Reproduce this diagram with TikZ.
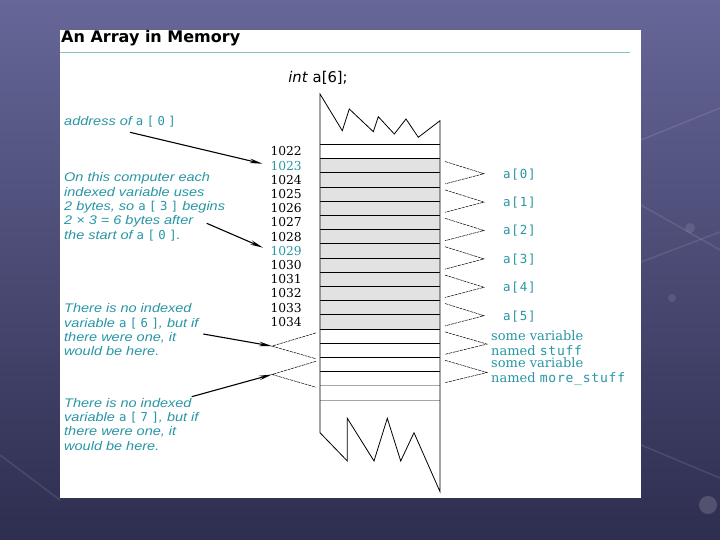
\documentclass[tikz,border=0pt]{standalone}
\usepackage{fontspec}
\usepackage{tikz}
\usetikzlibrary{arrows.meta,calc}
\newfontfamily\notefont[FakeStretch=1.16]{Liberation Sans}
\newfontfamily\headfont{DejaVu Sans}
\newfontfamily\addrfont{DejaVu Serif}
\newfontfamily\codefont[LetterSpace=6]{DejaVu Sans Mono}
\newfontfamily\notecode[LetterSpace=28]{DejaVu Sans Mono}
\definecolor{slidetop}{RGB}{102,102,152}
\definecolor{slidebottom}{RGB}{46,46,80}
\definecolor{tealtext}{RGB}{40,150,165}
\definecolor{titlerule}{RGB}{130,195,195}
\definecolor{cellgray}{RGB}{226,226,226}
\newcommand{\cd}[1]{{\codefont\upshape #1}}
\newcommand{\ncd}[1]{{\notecode\upshape\fontsize{12.3}{14.4}\selectfont #1}}
\tikzset{
    note/.style={
        anchor=north west,
        inner sep=0pt,
        align=left,
        text=tealtext,
        font=\notefont\itshape\fontsize{12.5}{14.4}\selectfont
    },
    address/.style={
        anchor=east,
        inner sep=0pt,
        font=\addrfont\fontsize{12.3}{13}\selectfont
    },
    element/.style={
        anchor=west,
        inner sep=0pt,
        text=tealtext,
        font=\codefont\fontsize{12.5}{14}\selectfont
    },
    varlabel/.style={
        anchor=west,
        inner sep=0pt,
        align=left,
        text=tealtext,
        font=\addrfont\fontsize{13}{14.4}\selectfont
    },
    cell/.style={
        rectangle,
        minimum width=120pt,
        minimum height=14.2pt,
        inner sep=0pt,
        outer sep=0pt
    },
    zig/.style={
        draw=black,
        line width=0.5pt,
        dash pattern=on 3pt off 0.8pt
    },
    pointer/.style={
        -{Stealth[length=13pt,width=4.5pt]},
        line width=1.1pt,
        draw=black
    },
    glow/.style={
        draw=white,
        draw opacity=0.1,
        line width=1.5pt
    }
}

\begin{document}
\begin{tikzpicture}[x=1pt, y=-1pt]
    \useasboundingbox (0,0) rectangle (720,540);
    % Slide and panel
    \fill[top color=slidetop, bottom color=slidebottom] (0,0) rectangle (720,540);
    \draw[glow] (641,140) -- (720,108);
    \draw[glow] (641,205) -- (720,250);
    \draw[glow] (641,262) -- (720,232);
    \draw[glow] (641,445) -- (720,478);
    \draw[glow] (0,455) -- (60,500);
    \fill[white, opacity=0.16] (708,505) circle (9);
    \fill[white, opacity=0.1] (690,228) circle (5);
    \fill[white, opacity=0.1] (672,298) circle (4);
    \fill[white] (60,30) rectangle (641,498);
    \node[anchor=west, inner sep=0pt, font=\headfont\bfseries\fontsize{16}{18}\selectfont] (title) at (61,38.5) {An Array in Memory};
    \draw[titlerule, line width=0.8pt] (60,52.5) -- (630,52.5);
    \node[inner sep=0pt, font=\headfont\fontsize{14.8}{16}\selectfont] (decl) at (318,78) {\textit{int} a[6];};

    % Memory cells
    \foreach \i in {0,...,17} {
        \node[cell] (cell\i) at (380,151.4+14.2*\i) {};
    }
    \foreach \i in {1,...,12} {
        \fill[cellgray] (cell\i.north west) rectangle (cell\i.south east);
    }
    \foreach \i in {0,...,16} {
        \draw[line width=0.7pt] (cell\i.north west) -- (cell\i.north east);
    }
    \draw[gray!70, line width=0.7pt] (cell17.north west) -- (cell17.north east);
    \draw[gray!70, line width=0.7pt] (cell17.south west) -- (cell17.south east);
    \draw[line width=0.8pt, line join=miter]
        (320,94) -- (342.3,130.7) -- (349.3,109) -- (373.3,131.7) -- (378.3,116.7)
        -- (394.3,134) -- (406,119) -- (418.3,137.3) -- (440,120.7)
        -- (440,491.7) -- (414,432.7) -- (400.7,461) -- (387.3,418.3) -- (374,461)
        -- (347.3,418.3) -- (347.3,461) -- (320,432.7) -- cycle;

    % Addresses
    \foreach \n/\c [count=\i from 0] in {
        1022/black, 1023/tealtext, 1024/black, 1025/black, 1026/black,
        1027/black, 1028/black, 1029/tealtext, 1030/black, 1031/black,
        1032/black, 1033/black, 1034/black%
    } {
        \node[address, text=\c] (addr\i) at (302,151.4+14.2*\i) {\n};
    }

    % Element braces on the right
    \foreach \lbl [count=\k from 0] in {a[0],a[1],a[2],a[3],a[4],a[5]} {
        \pgfmathtruncatemacro{\j}{2*\k+1}
        \pgfmathtruncatemacro{\m}{2*\k+2}
        \coordinate (tip\k) at ($(cell\j.south east)+(44,1)$);
        \draw[zig] ($(cell\j.north east)+(5,3)$) -- (tip\k) -- ($(cell\m.south east)+(5,-3)$);
        \node[element] (elem\k) at ($(tip\k)+(19,0.5)$) {\lbl};
    }
    \foreach \k in {6,7} {
        \pgfmathtruncatemacro{\j}{2*\k+1}
        \pgfmathtruncatemacro{\m}{2*\k+2}
        \coordinate (tip\k) at ($(cell\j.south east)+(47,1)$);
        \draw[zig] ($(cell\j.north east)+(5,3)$) -- (tip\k) -- ($(cell\m.south east)+(5,-3)$);
    }
    \node[varlabel] (stuff) at ($(tip6)+(4,-1)$) {some variable\\named \cd{stuff}};
    \node[varlabel] (morestuff) at ($(tip7)+(4,-1)$) {some variable\\named \cd{more\_stuff}};

    % Missing elements on the left
    \foreach \k in {6,7} {
        \pgfmathtruncatemacro{\j}{2*\k+1}
        \pgfmathtruncatemacro{\m}{2*\k+2}
        \coordinate (gap\k) at ($(cell\j.south west)+(-48,3)$);
        \draw[zig] ($(cell\j.north west)+(-4,4)$) -- (gap\k) -- ($(cell\m.south west)+(-4,1.5)$);
    }

    % Notes
    \node[note, anchor=west] (addrnote) at (64,121.7) {address of \ncd{a[0]}};
    \node[note] (stridenote) at (64,172.5) {On this computer each\\indexed variable uses\\2 bytes, so \ncd{a[3]} begins\\2 × 3 = 6 bytes after\\the start of \ncd{a[0]}.};
    \node[note] (sixnote) at (64,303.5) {There is no indexed\\variable \ncd{a[6]}, but if\\there were one, it\\would be here.};
    \node[note] (sevennote) at (64,397.9) {There is no indexed\\variable \ncd{a[7]}, but if\\there were one, it\\would be here.};

    % Arrows
    \coordinate (tail0) at (130,132.3);
    \coordinate (tail1) at (206.7,223.3);
    \coordinate (tail6) at (203.3,334);
    \coordinate (tail7) at (191.7,396.7);
    \draw[pointer, shorten >=8pt] (tail0) -- (addr1.west);
    \draw[pointer, shorten >=8pt] (tail1) -- (addr7.west);
    \draw[pointer] (tail6) -- (gap6);
    \draw[pointer] (tail7) -- (gap7);
\end{tikzpicture}
\end{document}
